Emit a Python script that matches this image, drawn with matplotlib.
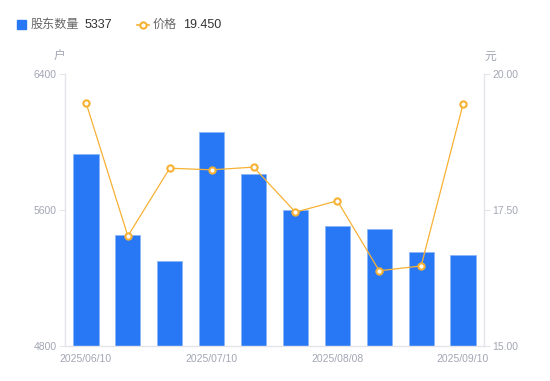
import matplotlib
matplotlib.use("Agg")
import matplotlib.pyplot as plt
from matplotlib.lines import Line2D

plt.rcParams['font.family'] = ['Liberation Sans', 'Noto Sans CJK SC', 'DejaVu Sans']

dates = ["2025/06/10", "2025/06/20", "2025/06/30", "2025/07/10", "2025/07/20",
         "2025/07/31", "2025/08/08", "2025/08/20", "2025/08/31", "2025/09/10"]
holders = [5928, 5453, 5299, 6058, 5814, 5600, 5504, 5486, 5351, 5337]
prices = [19.48, 17.02, 18.27, 18.24, 18.29, 17.46, 17.67, 16.38, 16.47, 19.45]
tick_idx = [0, 3, 6, 9]
left_ticks = [4800, 5600, 6400]
right_ticks = [15.0, 17.5, 20.0]

BLUE = "#2878F5"
ORANGE = "#F7B134"
GRAY = "#A3A6B4"
AXIS = "#E3E5EA"

fig = plt.figure(figsize=(5.5, 3.81), dpi=100)
ax = fig.add_axes([65/550, 1-345.7/381, (484-65)/550, (345.7-74.3)/381])
x = list(range(len(dates)))
ax.bar(x, holders, width=0.6, color=BLUE, edgecolor="#8DB6F7", linewidth=0.6, zorder=2)
ax.set_xlim(-0.5, len(dates)-0.5)
ax.set_ylim(left_ticks[0], left_ticks[-1])
ax.set_yticks(left_ticks)
ax.set_yticklabels([str(t) for t in left_ticks])
ax.set_xticks(tick_idx)
ax.set_xticklabels([dates[i] for i in tick_idx])
ax.tick_params(axis='x', length=0, pad=6, labelsize=7.5, labelcolor=GRAY)
ax.tick_params(axis='y', length=4, width=0.8, color=AXIS, pad=2, labelsize=7.5, labelcolor=GRAY)
for s in ['top', 'right']:
    ax.spines[s].set_visible(False)
for s in ['left', 'bottom']:
    ax.spines[s].set_color(AXIS)
    ax.spines[s].set_linewidth(1)

ax2 = ax.twinx()
ax2.plot(x, prices, color=ORANGE, linewidth=0.9, marker='o', markersize=4.5,
         markerfacecolor='white', markeredgecolor=ORANGE, markeredgewidth=1.5, zorder=3)
ax2.set_ylim(right_ticks[0], right_ticks[-1])
ax2.set_yticks(right_ticks)
ax2.set_yticklabels([f"{t:.2f}" for t in right_ticks])
ax2.tick_params(axis='y', length=4, width=0.8, color=AXIS, pad=2, labelsize=7.5, labelcolor=GRAY)
for s in ['top', 'left', 'bottom']:
    ax2.spines[s].set_visible(False)
ax2.spines['right'].set_color(AXIS)
ax2.spines['right'].set_linewidth(1)

fig.text(59/550, 1-57/381, "户", ha='center', va='center', fontsize=8.5, color=GRAY)
fig.text(490/550, 1-57/381, "元", ha='center', va='center', fontsize=8.5, color=GRAY)

# legend
ly = 1-24.5/381
fig.patches.append(plt.Rectangle((17/550, 1-29/381), 9/550, 9/381, transform=fig.transFigure,
                                 color=BLUE, figure=fig))
fig.text(31/550, ly, "股东数量", ha='left', va='center', fontsize=8.7, color="#666666")
fig.text(85/550, ly, f"{holders[-1]}", ha='left', va='center', fontsize=9, color="#333333")
fig.lines.append(Line2D([137/550, 149/550], [ly, ly], transform=fig.transFigure, color=ORANGE,
                        linewidth=1.2))
fig.lines.append(Line2D([143/550], [ly], transform=fig.transFigure, color=ORANGE, marker='o',
                        markersize=4.5, markerfacecolor='white', markeredgewidth=1.5, linestyle='none'))
fig.text(153/550, ly, "价格", ha='left', va='center', fontsize=8.7, color="#666666")
fig.text(183/550, ly, f"{prices[-1]:.3f}", ha='left', va='center', fontsize=9, color="#333333")

fig.savefig("out.png", dpi=100)
